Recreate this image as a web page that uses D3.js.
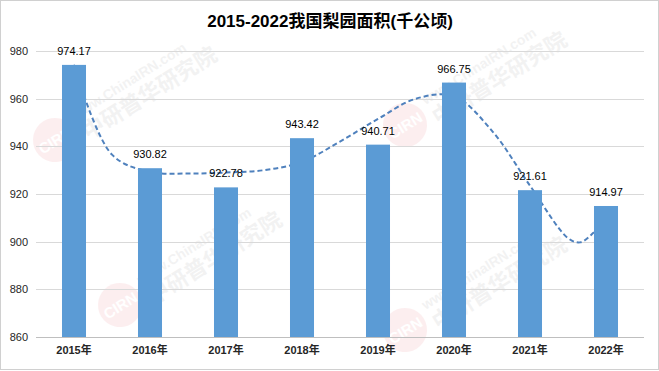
<!DOCTYPE html>
<html>
<head>
<meta charset="utf-8">
<script src="https://cdn.jsdelivr.net/npm/d3@7"></script>
<style>
  body { margin: 0; background: #fff; }
  svg { display: block; font-family: "Liberation Sans", "Noto Sans CJK SC", sans-serif; }
</style>
</head>
<body>
<div id="chart"></div>
<script>
var years = ["2015年", "2016年", "2017年", "2018年", "2019年", "2020年", "2021年", "2022年"]
var area = [974.17, 930.82, 922.78, 943.42, 940.71, 966.75, 921.61, 914.97]
var yTicks = [860, 880, 900, 920, 940, 960, 980]
// dashed trend line (position = category index)
var trendPos = [0, 0.5, 1, 1.5, 2, 2.5, 3, 3.5, 4, 4.5, 5, 5.5, 6, 6.5, 6.66, 6.83, 7]
var trendVal = [974.2, 936.5, 929.3, 928.6, 929, 930, 933.5, 942, 951.5, 960, 961, 946.5, 923.5, 901.5, 899.7, 903.6, 910]
var title = "2015-2022我国梨园面积(千公顷)"

var width = 659, height = 371

var svg = d3.select("#chart").append("svg")
  .attr("width", width)
  .attr("height", height)

// outer frame
svg.append("rect")
  .attr("x", 0.5).attr("y", 0.5)
  .attr("width", width - 1).attr("height", height - 2)
  .attr("fill", "#fff")
  .attr("stroke", "#d0d0d0")

var x = d3.scaleBand().domain(years).range([36, 644]).paddingInner(0.684).paddingOuter(0.342)
var y = d3.scaleLinear().domain([860, 980]).range([337, 51])
var xi = d3.scaleLinear().domain([0, 7]).range([x(years[0]) + x.bandwidth() / 2, x(years[7]) + x.bandwidth() / 2])

// watermarks
var marks = [[55, 140], [120, 305], [405, 125], [405, 330]]
marks.forEach(function(m){
  var g = svg.append("g").attr("transform", "translate(" + m[0] + "," + m[1] + ") rotate(-32)").attr("opacity", 0.09)
  g.append("circle").attr("r", 22).attr("fill", "#e8505b")
  g.append("text").attr("x", 0).attr("y", 6).attr("text-anchor", "middle")
    .attr("font-size", 15).attr("font-weight", "bold").attr("fill", "#fff").text("CIRN")
  g.append("text").attr("x", 28).attr("y", -6).attr("font-size", 14).attr("font-weight", "bold")
    .attr("fill", "#777").text("www.ChinaIRN.com")
  g.append("text").attr("x", 28).attr("y", 18).attr("font-size", 22).attr("font-weight", "bold")
    .attr("fill", "#777").text("中研普华研究院")
})

// title
svg.append("text")
  .attr("x", 330).attr("y", 27)
  .attr("text-anchor", "middle")
  .attr("font-size", 17).attr("font-weight", "bold")
  .attr("fill", "#000")
  .text(title)

// gridlines
svg.append("g").selectAll("line").data(yTicks).enter().append("line")
  .attr("x1", 36).attr("x2", 644)
  .attr("y1", function(d){ return Math.round(y(d)) + 0.5 })
  .attr("y2", function(d){ return Math.round(y(d)) + 0.5 })
  .attr("stroke", function(d){ return d == 860 ? "#bfbfbf" : "#d9d9d9" })

// y axis labels
var yAxis = d3.axisLeft(y).tickValues(yTicks).tickSize(0).tickPadding(0)
var ya = svg.append("g").attr("transform", "translate(28,0)").call(yAxis)
ya.select(".domain").remove()
ya.selectAll("text").attr("font-size", 11).attr("fill", "#262626").attr("font-family", "Liberation Sans, sans-serif")

// x axis labels
var xAxis = d3.axisBottom(x).tickSize(0).tickPadding(9)
var xa = svg.append("g").attr("transform", "translate(0,337)").call(xAxis)
xa.select(".domain").remove()
xa.selectAll("text").attr("font-size", 11).attr("font-weight", "bold").attr("fill", "#262626")
  .attr("font-family", "Liberation Sans, Noto Sans CJK SC, sans-serif")

// trend line (behind the bars)
var line = d3.line()
  .x(function(d, i){ return xi(trendPos[i]) })
  .y(function(d){ return y(d) })
  .curve(d3.curveCatmullRom)

svg.append("path")
  .datum(trendVal)
  .attr("d", line)
  .attr("fill", "none")
  .attr("stroke", "#4f81bd")
  .attr("stroke-width", 2)
  .attr("stroke-dasharray", "5,3")

// bars
svg.append("g").selectAll("rect").data(area).enter().append("rect")
  .attr("x", function(d, i){ return x(years[i]) })
  .attr("y", function(d){ return y(d) })
  .attr("width", x.bandwidth())
  .attr("height", function(d){ return y(860) - y(d) })
  .attr("fill", "#5b9bd5")

// value labels
svg.append("g").selectAll("text").data(area).enter().append("text")
  .attr("x", function(d, i){ return x(years[i]) + x.bandwidth() / 2 })
  .attr("y", function(d){ return y(d) - 10 })
  .attr("text-anchor", "middle")
  .attr("font-size", 11)
  .attr("fill", "#000")
  .text(function(d){ return d.toFixed(2) })
</script>
</body>
</html>
